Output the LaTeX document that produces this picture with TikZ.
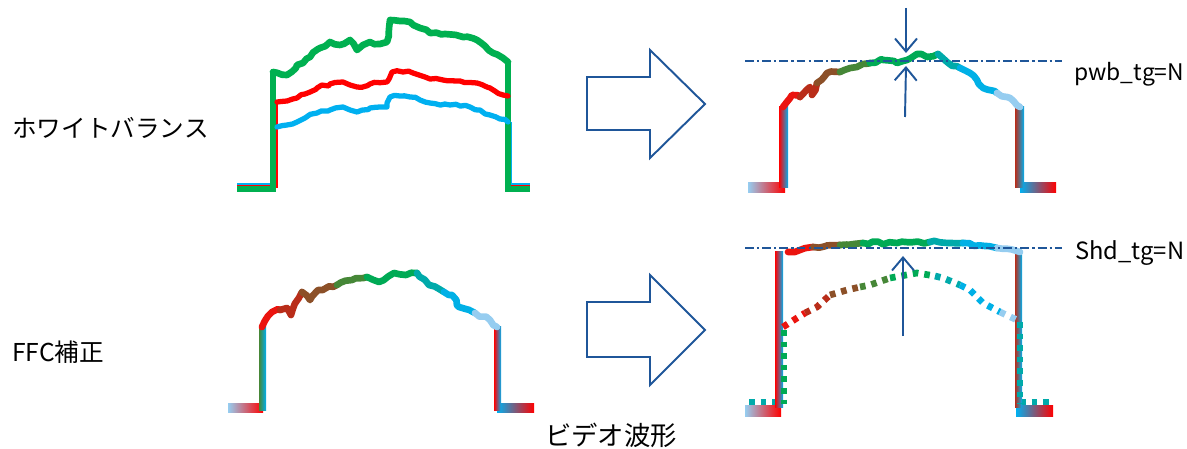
\documentclass[tikz,border=0pt]{standalone}
\usepackage{fontspec}
\setmainfont{Noto Sans CJK JP}
\usetikzlibrary{arrows.meta,decorations.pathmorphing}
\definecolor{wbgreen}{RGB}{0,176,80}
\definecolor{wbred}{RGB}{255,0,0}
\definecolor{wbblue}{RGB}{0,176,240}
\definecolor{markblue}{RGB}{31,86,153}
\definecolor{gradred}{RGB}{235,20,15}
\definecolor{gradrust}{RGB}{185,45,25}
\definecolor{gradbrown}{RGB}{140,80,40}
\definecolor{gradolive}{RGB}{70,135,55}
\definecolor{gradgreen}{RGB}{0,170,85}
\definecolor{gradteal}{RGB}{0,170,170}
\definecolor{gradcyan}{RGB}{0,176,230}
\definecolor{gradpale}{RGB}{150,205,240}
\pgfmathsetseed{7}
\tikzset{
  noise/.style={decorate, decoration={random steps, segment length=3pt, amplitude=0.8pt}},
  wave/.style={line width=3.8pt, line cap=round, line join=round, noise},
  thinwave/.style={line width=3pt, line cap=round, line join=round, noise},
  dashwave/.style={line width=3.8pt, dash pattern=on 3.2pt off 3.4pt},
  blockarrow/.style={draw=markblue, line width=1.1pt, line join=miter},
  level/.style={draw=markblue, line width=1.2pt, dash pattern=on 5pt off 1.8pt on 1.2pt off 1.8pt},
  marker/.style={draw=markblue, line width=1.1pt, -{Straight Barb[length=2.6mm,width=4.4mm]}},
  tagtext/.style={font=\fontsize{14}{16}\selectfont, inner sep=0pt}
}
\begin{document}
\begin{tikzpicture}[x=0.02cm, y=-0.02cm]
  \useasboundingbox (0,0) rectangle (1187,449);
  % labels
  \node[tagtext, anchor=west] (wb) at (12,128) {ホワイトバランス};
  \node[tagtext, anchor=west] (ffc) at (12,352) {FFC補正};
  \node[tagtext, font=\fontsize{15}{17}\selectfont] (video) at (611,435) {ビデオ波形};
  \node[tagtext, anchor=west, font=\fontsize{13}{15}\selectfont] (pwb) at (1074,74) {pwb\_tg=N};
  \node[tagtext, anchor=west, font=\fontsize{13.5}{15}\selectfont] (shd) at (1075,253) {Shd\_tg=N};

  % white balance input: three channels
  \draw[line width=1.2pt, wbblue] (237,184) -- (273,184);
  \draw[line width=1.2pt, wbred] (237,186.5) -- (277,186.5) -- (277,102);
  \draw[line width=3pt, wbgreen] (237,189) -- (273,189) -- (273,72);
  \draw[line width=1.2pt, wbblue] (511,122) -- (511,184) -- (530,184);
  \draw[line width=1.2pt, wbred] (510,95) -- (510,186.5) -- (530,186.5);
  \draw[line width=3pt, wbgreen] (508,62) -- (508,189) -- (530,189);
  \draw[thinwave, wbblue] (277,127) -- (287,125) -- (297,122) -- (305,118) -- (317,113) -- (330,110)
    -- (343,107) -- (350,110) -- (357,112) -- (370,108) -- (387,107) -- (390,97) -- (400,96)
    -- (410,97) -- (420,100) -- (430,103) -- (450,105) -- (470,107) -- (480,110) -- (490,115)
    -- (500,119) -- (508,122);
  \draw[thinwave, wbred] (277,102) -- (287,101) -- (297,98) -- (305,94) -- (317,88) -- (330,84)
    -- (343,82) -- (350,85) -- (357,87) -- (370,84) -- (387,82) -- (392,72) -- (403,72)
    -- (413,73) -- (425,77) -- (443,80) -- (460,81) -- (477,83) -- (490,88) -- (503,95) -- (508,96);
  \draw[wave, wbgreen] (273,72) -- (287,75) -- (297,65) -- (303,63) -- (310,57) -- (320,48)
    -- (330,42) -- (340,45) -- (350,40) -- (357,50) -- (363,45) -- (370,42) -- (380,44)
    -- (387,42) -- (390,20) -- (400,21) -- (410,22) -- (420,28) -- (430,33) -- (445,34)
    -- (463,37) -- (477,40) -- (485,46) -- (493,53) -- (503,58) -- (508,62);

  % white balance output
  \shade[left color=gradpale, middle color=wbgreen, right color=wbred] (748,183) rectangle (785,193);
  \shade[left color=wbblue, middle color=wbgreen, right color=wbred] (1020,183) rectangle (1056,193);
  \shade[left color=wbred, middle color=wbgreen, right color=wbblue] (779,107) rectangle (788,188);
  \shade[left color=gradrust, middle color=wbgreen, right color=wbblue] (1015,107) rectangle (1024,188);
  \draw[wave, gradred] (783,107) -- (792,95) -- (800,97);
  \draw[wave, gradrust] (800,97) -- (810,87) -- (812,95) -- (817,83);
  \draw[wave, gradbrown] (817,83) -- (827,73) -- (840,72);
  \draw[wave, gradolive] (840,72) -- (857,67) -- (870,63);
  \draw[wave, gradgreen] (870,63) -- (883,60) -- (897,63) -- (907,60) -- (917,54) -- (927,57) -- (938,54);
  \draw[wave, gradteal] (938,54) -- (947,62) -- (960,68);
  \draw[wave, gradcyan] (960,68) -- (970,73) -- (977,80) -- (983,88) -- (997,93);
  \draw[wave, gradpale] (997,93) -- (1010,98) -- (1020,107);
  \draw[level] (745,61) -- (1062,61);
  \coordinate (pwbtop) at (906,8);
  \coordinate (pwbhi) at (906,53);
  \coordinate (pwbbot) at (905,117);
  \coordinate (pwblo) at (906,66);
  \draw[marker] (pwbtop) -- (pwbhi);
  \draw[marker] (pwbbot) -- (pwblo);

  % FFC input
  \shade[left color=gradpale, middle color=wbgreen, right color=wbred] (228,403) rectangle (263,412);
  \shade[left color=wbblue, middle color=wbgreen, right color=wbred] (497,403) rectangle (534,412);
  \shade[left color=gradolive, middle color=wbgreen, right color=wbblue] (259,327) rectangle (266,410);
  \shade[left color=wbred, middle color=wbgreen, right color=wbblue] (494,327) rectangle (501,410);
  \draw[wave, gradred] (262,327) -- (268,316) -- (272,312) -- (280,310);
  \draw[wave, gradrust] (280,310) -- (287,308) -- (291,315) -- (296,302) -- (302,292);
  \draw[wave, gradbrown] (302,292) -- (310,300) -- (318,290) -- (337,285);
  \draw[wave, gradolive] (337,285) -- (352,280) -- (367,277);
  \draw[wave, gradgreen] (367,277) -- (379,282) -- (394,273) -- (406,275) -- (417,273);
  \draw[wave, gradteal] (417,273) -- (429,285) -- (444,292);
  \draw[wave, gradcyan] (444,292) -- (452,295) -- (459,307) -- (475,313);
  \draw[wave, gradpale] (475,313) -- (490,320) -- (497,327);

  % FFC output
  \shade[left color=gradpale, middle color=wbgreen, right color=wbred] (745,405) rectangle (781,416);
  \shade[left color=wbblue, middle color=wbgreen, right color=wbred] (1016,405) rectangle (1053,416);
  \draw[dashwave, gradteal] (749,402) -- (780,402);
  \draw[dashwave, gradteal] (1020,402) -- (1052,402);
  \shade[left color=wbred, middle color=wbgreen, right color=wbblue] (775,252) rectangle (783,407);
  \shade[left color=gradrust, middle color=wbgreen, right color=wbblue] (1015,252) rectangle (1022,407);
  \draw[dashwave, gradgreen] (784,330) -- (784,404);
  \draw[dashwave, gradteal] (1020,322) -- (1020,404);
  \draw[dashwave, gradred] (783,327) -- (797,318) -- (805,313);
  \draw[dashwave, gradrust] (805,313) -- (817,307) -- (830,295);
  \draw[dashwave, gradbrown] (830,295) -- (847,290) -- (860,287);
  \draw[dashwave, gradolive] (860,287) -- (870,285) -- (890,278);
  \draw[dashwave, gradgreen] (890,278) -- (917,273) -- (935,276);
  \draw[dashwave, gradteal] (935,276) -- (943,278) -- (960,285);
  \draw[dashwave, gradcyan] (960,285) -- (970,290) -- (983,303) -- (1000,312);
  \draw[dashwave, gradpale] (1000,312) -- (1017,320);
  \draw[wave, gradred] (788,252) -- (800,250) -- (813,247);
  \draw[wave, gradbrown] (813,247) -- (840,245);
  \draw[wave, gradolive] (840,245) -- (863,243);
  \draw[wave, gradgreen] (863,243) -- (897,243) -- (930,242);
  \draw[wave, gradteal] (930,242) -- (963,243);
  \draw[wave, gradcyan] (963,243) -- (985,246) -- (997,248);
  \draw[wave, gradpale] (997,248) -- (1020,252);
  \draw[level] (745,248) -- (1062,248);
  \coordinate (shdbot) at (903,336);
  \coordinate (shdhi) at (903,256);
  \draw[marker] (shdbot) -- (shdhi);

  % block arrows
  \draw[blockarrow] (587,77) -- (650,77) -- (650,50) -- (705,104) -- (650,158) -- (650,130) -- (587,130) -- cycle;
  \draw[blockarrow] (587,302) -- (650,302) -- (650,275) -- (705,330) -- (650,385) -- (650,357) -- (587,357) -- cycle;
\end{tikzpicture}
\end{document}
